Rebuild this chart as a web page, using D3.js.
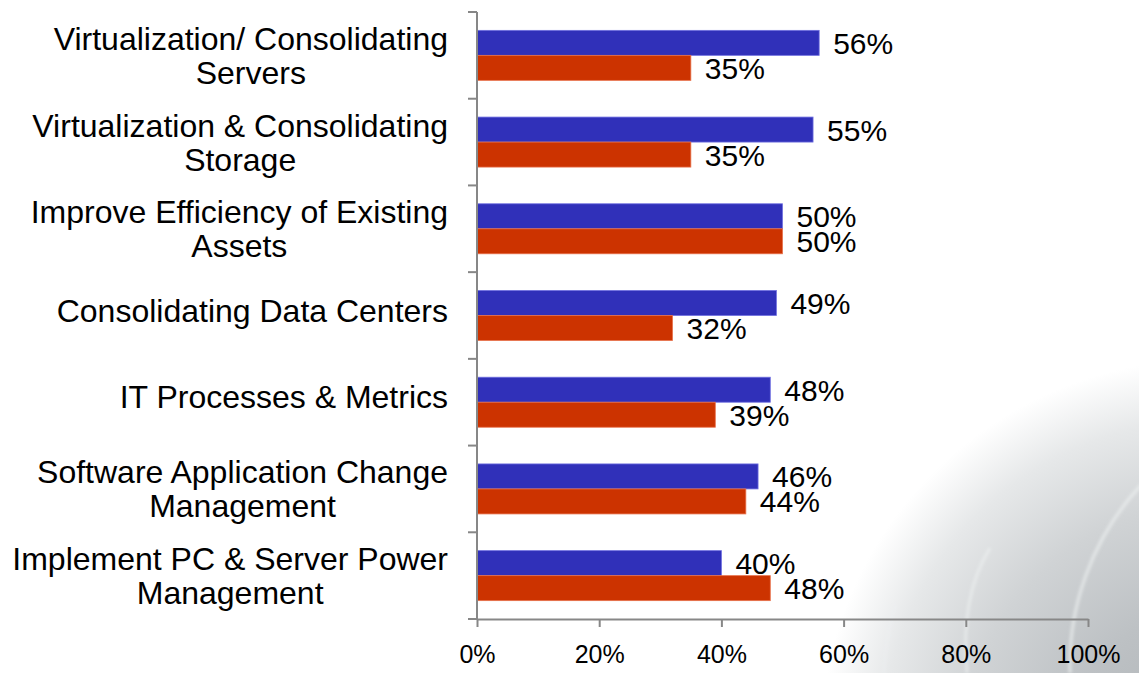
<!DOCTYPE html>
<html>
<head>
<meta charset="utf-8">
<script src="https://cdn.jsdelivr.net/npm/d3@7/dist/d3.min.js"></script>
<style>
  html, body { margin: 0; padding: 0; background: #fff; }
  svg { display: block; }
  text { font-family: "Liberation Sans", Arial, Helvetica, sans-serif; fill: #000; }
</style>
</head>
<body>
<svg id="chart" width="1141" height="673"></svg>
<script>
// ---- data ----
const categories = [
  ["Virtualization/ Consolidating", "Servers"],
  ["Virtualization & Consolidating", "Storage"],
  ["Improve Efficiency of Existing", "Assets"],
  ["Consolidating Data Centers"],
  ["IT Processes & Metrics"],
  ["Software Application Change", "Management"],
  ["Implement PC & Server Power", "Management"]
];
const seriesA = [56, 55, 50, 49, 48, 46, 40];   // blue
const seriesB = [35, 35, 50, 32, 39, 44, 48];   // orange-red
const xTicks = [0, 20, 40, 60, 80, 100];
const tickLabels = ["0%", "20%", "40%", "60%", "80%", "100%"];

// ---- layout ----
const W = 1141, H = 673;
const mLeft = 477, mRight = 1088, mTop = 12, mBottom = 619;
const svg = d3.select("#chart");

// background swirl
const defs = svg.append("defs");
const rg = defs.append("radialGradient").attr("id", "bg")
  .attr("gradientUnits", "userSpaceOnUse")
  .attr("cx", 1205).attr("cy", 745).attr("r", 385);
rg.append("stop").attr("offset", "0%").attr("stop-color", "#aeb3b6");
rg.append("stop").attr("offset", "35%").attr("stop-color", "#bdc1c4");
rg.append("stop").attr("offset", "62%").attr("stop-color", "#d0d3d5");
rg.append("stop").attr("offset", "84%").attr("stop-color", "#e6e8e9");
rg.append("stop").attr("offset", "100%").attr("stop-color", "#ffffff");
const blur = defs.append("filter").attr("id", "blur").attr("x", "-20%").attr("y", "-20%").attr("width", "140%").attr("height", "140%");
blur.append("feGaussianBlur").attr("stdDeviation", 1.5);

svg.append("rect").attr("width", W).attr("height", H).attr("fill", "#fff");
svg.append("rect").attr("width", W).attr("height", H).attr("fill", "url(#bg)");
const swirl = svg.append("g").attr("filter", "url(#blur)").attr("fill", "none")
  .attr("stroke", "#eef1f2").attr("stroke-opacity", 0.6);
swirl.append("path").attr("d", "M967,673 C962,620 970,580 990,548").attr("stroke-width", 3);
swirl.append("path").attr("d", "M1070,673 C1068,610 1090,540 1141,485").attr("stroke-width", 3.5);
swirl.append("path").attr("d", "M884,673 C886,640 890,620 896,605").attr("stroke-width", 2.5).attr("stroke-opacity", 0.4);
svg.append("rect").attr("x", 1139).attr("y", 0).attr("width", 2).attr("height", H).attr("fill", "#fff");

// scales
const x = d3.scaleLinear().domain([0, 100]).range([mLeft, mRight]);
const y = d3.scaleBand().domain(d3.range(categories.length)).range([mTop, mBottom]).padding(0);
const sub = d3.scaleBand().domain([0, 1]).range([0, y.bandwidth()]).paddingInner(0).paddingOuter(0.734);

const colors = ["#3030b9", "#cc3300"];
const strokes = ["#6f6fe0", "#e8704a"];
const series = [seriesA, seriesB];

// bars
series.forEach((vals, s) => {
  svg.append("g").selectAll("rect").data(vals).join("rect")
    .attr("x", x(0))
    .attr("y", (d, i) => y(i) + sub(s))
    .attr("width", d => x(d) - x(0))
    .attr("height", sub.bandwidth())
    .attr("fill", colors[s])
    .attr("stroke", strokes[s]).attr("stroke-width", 0.8);
});

// data labels
series.forEach((vals, s) => {
  svg.append("g").selectAll("text").data(vals).join("text")
    .attr("x", d => x(d) + 14)
    .attr("y", (d, i) => y(i) + sub(s) + sub.bandwidth() / 2 + 11)
    .attr("font-size", 30)
    .text(d => d + "%");
});

// y axis
const axisColor = "#878787";
const yAxis = svg.append("g");
yAxis.append("line").attr("x1", mLeft).attr("x2", mLeft).attr("y1", mTop).attr("y2", mBottom)
  .attr("stroke", axisColor).attr("stroke-width", 2);
const yBounds = d3.range(categories.length + 1).map(i => i < categories.length ? y(i) : mBottom);
yAxis.selectAll("line.t").data(yBounds).join("line").attr("class", "t")
  .attr("x1", mLeft - 9).attr("x2", mLeft).attr("y1", d => d).attr("y2", d => d)
  .attr("stroke", axisColor).attr("stroke-width", 2);

// category labels (centered multi-line block, right-aligned to the axis)
const catG = svg.append("g");
const labelRight = 448, lineH = 34;
categories.forEach((lines, i) => {
  const c = y(i) + y.bandwidth() / 2;
  const first = lines.length === 1 ? c + 6 : c - 5.5 - (lines.length - 2) * lineH / 2;
  const t = catG.append("text").attr("font-size", 32).attr("text-anchor", "middle");
  const spans = lines.map((ln, k) => t.append("tspan").attr("y", first + k * lineH).text(ln));
  const maxW = d3.max(spans, sp => sp.node().getComputedTextLength());
  spans.forEach(sp => sp.attr("x", labelRight - maxW / 2));
});

// x axis
const xAxis = svg.append("g").attr("transform", `translate(0,${mBottom})`)
  .call(d3.axisBottom(x).tickValues(xTicks).tickSize(8).tickSizeOuter(0).tickFormat((d, i) => tickLabels[i]).tickPadding(18));
xAxis.select(".domain").attr("stroke", axisColor).attr("stroke-width", 2);
xAxis.selectAll(".tick line").attr("stroke", axisColor).attr("stroke-width", 2);
xAxis.selectAll(".tick text").attr("font-size", 25).attr("fill", "#000")
  .attr("font-family", "'Liberation Sans', Arial, sans-serif");
</script>
</body>
</html>
